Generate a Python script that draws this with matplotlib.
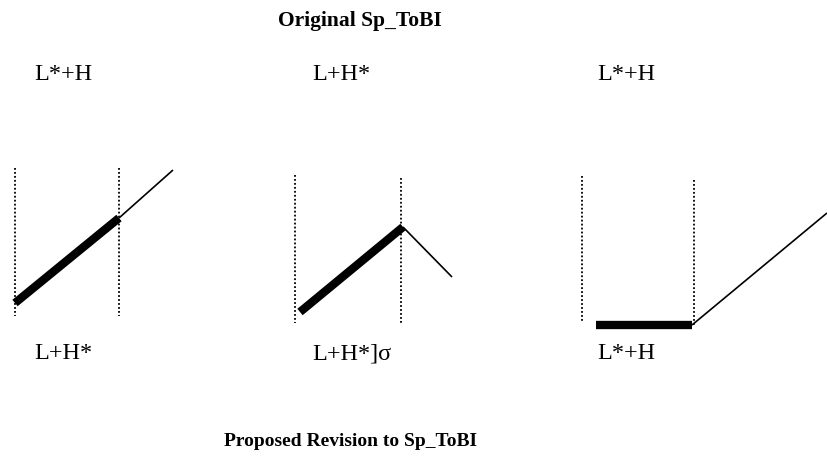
import matplotlib
matplotlib.use("Agg")
import matplotlib.pyplot as plt

# canvas is in pixel units, y grows downward
W, H = 827, 461

top_labels = ["L*+H", "L+H*", "L*+H"]
bottom_labels = ["L+H*", "L+H*]\u03c3", "L*+H"]
label_x = [34, 312, 597]

# dotted boundaries: x, y top, y bottom
dotted_x = [15, 119, 295, 401, 582, 694]
dotted_top = [168, 168, 175, 178, 176, 180]
dotted_bot = [316, 316, 323, 325, 323, 327]

# thick (stressed) segments
thick_x = [[15, 119], [300, 403], [596, 692]]
thick_y = [[303, 218], [312, 227], [325, 325]]

# thin continuations
thin_x = [[119, 173], [403, 452], [692, 827]]
thin_y = [[218, 170], [227, 277], [325, 213]]

fig = plt.figure(figsize=(W / 100, H / 100), dpi=100)
ax = fig.add_axes([0, 0, 1, 1])
ax.set_xlim(0, W)
ax.set_ylim(H, 0)
ax.axis("off")

serif = ["Liberation Serif", "DejaVu Serif"]

for x, y0, y1 in zip(dotted_x, dotted_top, dotted_bot):
    ax.plot([x, x], [y0, y1], color="black", lw=1.3, linestyle=(0, (1, 1.2)))

for xs, ys in zip(thin_x, thin_y):
    ax.plot(xs, ys, color="black", lw=1.2, solid_capstyle="butt")

for xs, ys in zip(thick_x, thick_y):
    ax.plot(xs, ys, color="black", lw=6, solid_capstyle="butt")

for x, t in zip(label_x, top_labels):
    ax.text(x, 80, t, family=serif, fontsize=17.5, va="baseline", ha="left")

for x, t in zip(label_x, bottom_labels):
    ax.text(x, 359, t, family=serif, fontsize=17.5, va="baseline", ha="left")

ax.text(360, 26, "Original Sp_ToBI", family=serif, fontsize=15.5,
        fontweight="bold", va="baseline", ha="center")
ax.text(351, 446, "Proposed Revision to Sp_ToBI", family=serif, fontsize=14,
        fontweight="bold", va="baseline", ha="center")

fig.savefig("out.png", dpi=100)
